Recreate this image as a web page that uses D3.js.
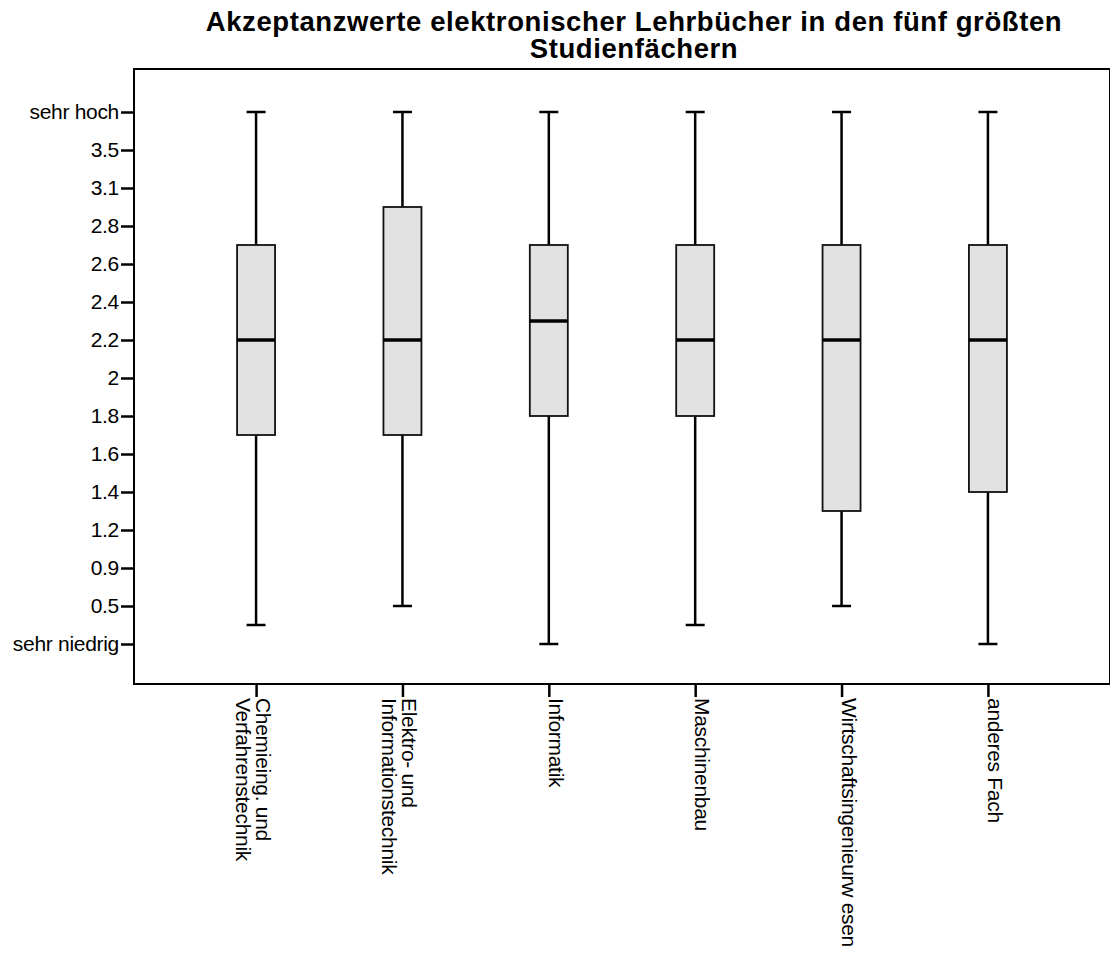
<!DOCTYPE html>
<html>
<head>
<meta charset="utf-8">
<script src="https://cdn.jsdelivr.net/npm/d3@7"></script>
<style>
  body { margin: 0; background: #fff; }
  svg { display: block; font-family: "Liberation Sans", Arial, sans-serif; }
</style>
</head>
<body>
<svg id="chart" width="1110" height="953"></svg>
<script>
// Subjects (x categories)
const categories = [
  ["Chemieing. und", "Verfahrenstechnik"],
  ["Elektro- und", "Informationstechnik"],
  ["Informatik"],
  ["Maschinenbau"],
  ["Wirtschaftsingenieurw esen"],
  ["anderes Fach"]
];
// Box-plot statistics per subject
const whiskerLow  = [0.25, 0.5, 0, 0.25, 0.5, 0];
const q1          = [1.7, 1.7, 1.8, 1.8, 1.3, 1.4];
const median      = [2.2, 2.2, 2.3, 2.2, 2.2, 2.2];
const q3          = [2.7, 2.95, 2.7, 2.7, 2.7, 2.7];
const whiskerHigh = [4, 4, 4, 4, 4, 4];
// Axis tick values and their labels (evenly spaced on the axis)
const tickValues = [0, 0.5, 0.9, 1.2, 1.4, 1.6, 1.8, 2, 2.2, 2.4, 2.6, 2.8, 3.1, 3.5, 4];
const tickLabels = ["sehr niedrig", "0.5", "0.9", "1.2", "1.4", "1.6", "1.8", "2", "2.2", "2.4", "2.6", "2.8", "3.1", "3.5", "sehr hoch"];

const svg = d3.select("#chart");
const frame = { left: 134, top: 69, right: 1110, bottom: 684 };
const yTop = 112, yBottom = 644;

const keys = categories.map(c => c.join(" "));
const x = d3.scalePoint().domain(keys).range([frame.left, frame.right]).padding(0.834);
const step = (yBottom - yTop) / (tickValues.length - 1);
const y = d3.scaleLinear()
  .domain(tickValues)
  .range(tickValues.map((_, i) => yBottom - i * step));

// Title (two lines)
const titleLines = ["Akzeptanzwerte elektronischer Lehrbücher in den fünf größten", "Studienfächern"];
svg.selectAll("text.title").data(titleLines).join("text")
  .attr("class", "title")
  .attr("x", 634).attr("y", (d, i) => 31 + i * 27)
  .attr("text-anchor", "middle")
  .attr("font-weight", "bold").attr("font-size", 27.5).attr("letter-spacing", 0.6)
  .attr("fill", "#000")
  .text(d => d);

// Plot frame
svg.append("rect")
  .attr("x", frame.left).attr("y", frame.top)
  .attr("width", frame.right - frame.left).attr("height", frame.bottom - frame.top)
  .attr("fill", "none").attr("stroke", "#000").attr("stroke-width", 2);

// Y axis
const yAxis = d3.axisLeft(y).tickValues(tickValues)
  .tickFormat((d, i) => tickLabels[i]).tickSize(13).tickPadding(2);
const gy = svg.append("g").attr("transform", `translate(${frame.left},0)`).call(yAxis);
gy.select(".domain").remove();
gy.selectAll(".tick line").attr("stroke", "#000").attr("stroke-width", 2.5);
gy.selectAll(".tick text").attr("font-size", 21).attr("fill", "#000")
  .attr("font-family", "'Liberation Sans', Arial, sans-serif").attr("letter-spacing", -0.3);

// X axis
const xAxis = d3.axisBottom(x).tickSize(13).tickFormat("");
const gx = svg.append("g").attr("transform", `translate(0,${frame.bottom})`).call(xAxis);
gx.select(".domain").remove();
gx.selectAll(".tick line").attr("stroke", "#000").attr("stroke-width", 2.5);

// Rotated category labels
keys.forEach((k, i) => {
  const t = svg.append("text")
    .attr("transform", `translate(${x(k)},${frame.bottom + 14}) rotate(90)`)
    .attr("font-size", 21).attr("letter-spacing", -0.3).attr("fill", "#000");
  categories[i].forEach((line, j) => {
    t.append("tspan").attr("x", 0).attr("y", j * 20).text(line);
  });
});

// Boxes
const boxW = 38, capW = 19;
const g = svg.append("g");
keys.forEach((k, i) => {
  const cx = x(k);
  // whiskers
  g.append("line").attr("x1", cx).attr("x2", cx)
    .attr("y1", y(whiskerHigh[i])).attr("y2", y(q3[i]))
    .attr("stroke", "#000").attr("stroke-width", 2.5);
  g.append("line").attr("x1", cx).attr("x2", cx)
    .attr("y1", y(q1[i])).attr("y2", y(whiskerLow[i]))
    .attr("stroke", "#000").attr("stroke-width", 2.5);
  // caps
  [whiskerHigh[i], whiskerLow[i]].forEach(v => {
    g.append("line").attr("x1", cx - capW / 2).attr("x2", cx + capW / 2)
      .attr("y1", y(v)).attr("y2", y(v))
      .attr("stroke", "#000").attr("stroke-width", 2.5);
  });
  // box
  g.append("rect").attr("x", cx - boxW / 2).attr("y", y(q3[i]))
    .attr("width", boxW).attr("height", y(q1[i]) - y(q3[i]))
    .attr("fill", "#e2e2e2").attr("stroke", "#111").attr("stroke-width", 1.8);
  // median
  g.append("line").attr("x1", cx - boxW / 2).attr("x2", cx + boxW / 2)
    .attr("y1", y(median[i])).attr("y2", y(median[i]))
    .attr("stroke", "#000").attr("stroke-width", 3.5);
});
</script>
</body>
</html>
